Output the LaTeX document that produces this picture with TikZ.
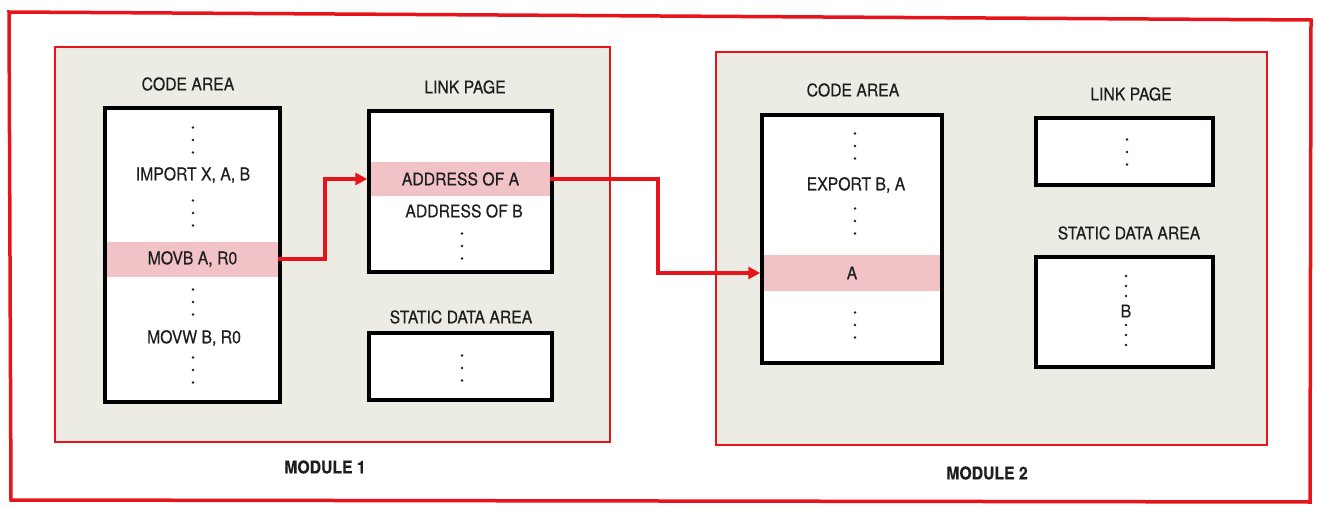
\documentclass[tikz,border=0pt]{standalone}
\usepackage{fontspec}
\setmainfont{TeX Gyre Heros}[FakeStretch=0.9,FakeBold=0.4]
\usetikzlibrary{arrows.meta}
\definecolor{redline}{HTML}{E8141C}
\definecolor{panelbg}{HTML}{EDECE4}
\definecolor{pinkrow}{HTML}{F1C2C6}
\definecolor{txt}{HTML}{1E1E1E}
\tikzset{
  panel/.style={draw=redline, line width=2.5pt, fill=panelbg},
  membox/.style={draw=black, line width=3.5pt, fill=white, inner sep=0pt},
  pinkband/.style={fill=pinkrow, draw=none, inner sep=0pt},
  lbl/.style={font=\fontsize{17.5}{20}\selectfont, text=txt, inner sep=0pt},
  modlbl/.style={font=\fontsize{17.5}{20}\selectfont\bfseries, text=txt, inner sep=0pt},
  redarrow/.style={draw=redline, line width=4pt, -{Triangle[length=12pt,width=12pt]}},
  vdot/.style={fill=txt}
}
\newcommand{\threedots}[2]{% x, y of middle dot
  \fill[vdot] (#1,#2-12.5) circle (1.4);
  \fill[vdot] (#1,#2) circle (1.4);
  \fill[vdot] (#1,#2+12.5) circle (1.4);
}
\begin{document}
\begin{tikzpicture}[x=1pt,y=-1pt]
\useasboundingbox (0,0) rectangle (1323,508);
\fill[white] (0,0) rectangle (1323,508);
% outer frame
\draw[redline, line width=3.5pt] (9,12) -- (1311,20) -- (1310,502) -- (11,500) -- cycle;
% panels
\node[panel, minimum width=555, minimum height=395, inner sep=0pt] (mod1) at (332.5,244.5) {};
\node[panel, minimum width=551, minimum height=393, inner sep=0pt] (mod2) at (991.5,248.5) {};
\node[modlbl] (mod1lbl) at (325,467) {MODULE 1};
\node[modlbl] (mod2lbl) at (987,473) {MODULE 2};

% ---------- Module 1 ----------
\node[lbl] (ca1lbl) at (188,84) {CODE AREA};
\node[membox, minimum width=175, minimum height=294] (code1) at (192.5,255) {};
\node[pinkband, minimum width=171, minimum height=35] (movb) at (192.5,259) {};
\node[lbl] at (movb) {MOVB A, R0};
\node[lbl] (imp) at (193,175) {IMPORT X, A, B};
\node[lbl] (movw) at (194,338) {MOVW B, R0};
\threedots{193}{140}
\threedots{193}{213}
\threedots{193}{302}
\threedots{193}{370}

\node[lbl] (lp1lbl) at (465,87) {LINK PAGE};
\node[membox, minimum width=183, minimum height=161] (link1) at (460.5,191.5) {};
\node[pinkband, minimum width=179, minimum height=33] (addra) at (460.5,179) {};
\node[lbl] at (addra) {ADDRESS OF A};
\node[lbl] (addrb) at (464,211) {ADDRESS OF B};
\threedots{462}{246}

\node[lbl] (sd1lbl) at (461,317) {STATIC DATA AREA};
\node[membox, minimum width=183, minimum height=67] (static1) at (460.5,366.5) {};
\threedots{462}{368}

% ---------- Module 2 ----------
\node[lbl] (ca2lbl) at (853,90) {CODE AREA};
\node[membox, minimum width=180, minimum height=248] (code2) at (852,239) {};
\node[pinkband, minimum width=176, minimum height=36] (arow) at (852,273) {};
\node[lbl] at (arow) {A};
\node[lbl] (exp) at (856,185) {EXPORT B, A};
\threedots{855}{146}
\threedots{855}{221}
\threedots{855}{325}

\node[lbl] (lp2lbl) at (1131,94) {LINK PAGE};
\node[membox, minimum width=177, minimum height=67] (link2) at (1124.5,151.5) {};
\threedots{1127}{152}

\node[lbl] (sd2lbl) at (1129,233) {STATIC DATA AREA};
\node[membox, minimum width=177, minimum height=110] (static2) at (1124.5,312) {};
\node[lbl] (bval) at (1126,311) {B};
\fill[vdot] (1126,276) circle (1.3);
\fill[vdot] (1126,286) circle (1.3);
\fill[vdot] (1126,296) circle (1.3);
\fill[vdot] (1126,325) circle (1.3);
\fill[vdot] (1126,335) circle (1.3);
\fill[vdot] (1126,345) circle (1.3);

% ---------- connectors ----------
\draw[redarrow] (movb.east) -- (325,259) |- (link1.west |- addra.east);
\draw[redarrow] (addra.east) -- (658,179) |- (code2.west |- arow.west);
\end{tikzpicture}
\end{document}
